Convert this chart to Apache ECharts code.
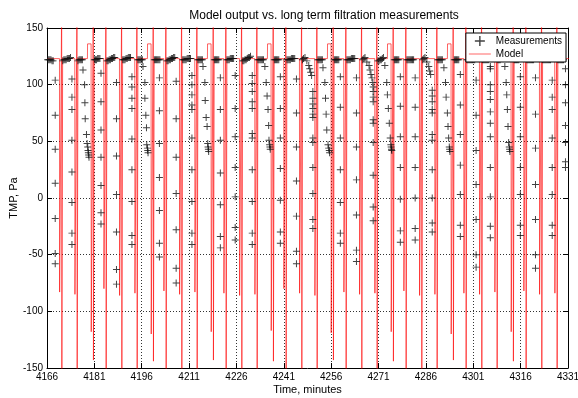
<!DOCTYPE html>
<html>
<head>
<meta charset="utf-8">
<script src="https://cdn.jsdelivr.net/npm/echarts@6/dist/echarts.min.js"></script>
<style>
  html, body { margin: 0; padding: 0; background: #fff; }
  #chart { width: 578px; height: 398px; }
</style>
</head>
<body>
<div id="chart"></div>
<script>
// model cycles: time of the big backwash spike, depth of the drop before it, low end of the spike
var cycleTimes = [4170.65, 4175.50, 4180.66, 4184.68, 4189.65, 4194.50, 4199.66, 4203.68,
  4208.65, 4213.50, 4218.66, 4222.68, 4227.65, 4232.50, 4237.66, 4241.68,
  4246.65, 4251.50, 4256.66, 4260.68, 4265.65, 4270.50, 4275.66, 4279.68,
  4284.65, 4289.50, 4294.66, 4298.68, 4303.65, 4308.50, 4313.66, 4317.68,
  4322.65, 4327.50, 4332.56];
var cycleDips = [-83, -85, -118, -80, -86, -84, -120, -82,
  -85, -83, -118, -84, -86, -85, -117, -80,
  -84, -86, -119, -83, -85, -84, -118, -82,
  -86, -85, -120, -84, -85, -83, -118, -82,
  -85, -84, -85];
var cycleLows = [-175, -175, -143, -175, -175, -175, -144, -175,
  -175, -175, -143, -175, -175, -175, -144, -175,
  -175, -175, -143, -175, -175, -175, -144, -175,
  -175, -175, -143, -175, -175, -175, -144, -175,
  -175, -175, -175];
// short raised steps of the model before every fourth spike
var bumps = [[4178.8, 4179.96], [4197.8, 4198.96], [4216.8, 4217.96], [4235.8, 4236.96],
  [4254.8, 4255.96], [4273.8, 4274.96], [4292.8, 4293.96], [4311.8, 4312.96]];
var flatModel = 123;
var bumpModel = 136;

// measurements: dense points during filtration
var measFlat = [
  [4166.2,122],[4166.55,122],[4166.9,122],[4167.25,122],[4167.6,121],[4167.95,121],
  [4171.0,121],[4171.35,122],[4171.7,122],[4172.05,122],[4172.4,123],[4172.75,123],[4173.1,123],[4173.45,124],
  [4175.8,121],[4176.15,122],[4176.5,122],[4176.85,122],[4177.2,122],
  [4181.0,122],[4181.35,122],[4181.7,122],[4182.05,123],[4182.4,123],[4182.75,123],
  [4185.0,121],[4185.35,121],[4185.7,122],[4186.05,122],[4186.4,123],[4186.75,123],[4187.1,124],[4187.45,124],
  [4190.0,122],[4190.35,122],[4190.7,122],[4191.05,123],[4191.4,123],[4191.75,124],[4192.1,124],[4192.45,124],
  [4194.8,122],[4195.15,122],[4195.5,122],[4195.85,122],[4196.2,122],
  [4200.0,122],[4200.35,122],[4200.7,122],[4201.05,122],[4201.4,122],[4201.75,122],
  [4204.0,121],[4204.35,121],[4204.7,122],[4205.05,122],[4205.4,123],[4205.75,123],[4206.1,124],[4206.45,124],
  [4209.0,122],[4209.35,122],[4209.7,122],[4210.05,122],[4210.4,123],[4210.75,123],[4211.1,123],[4211.45,123],
  [4213.8,122],[4214.15,122],[4214.5,122],[4214.85,122],[4215.2,122],
  [4219.0,122],[4219.35,122],[4219.7,122],[4220.05,122],[4220.4,122],
  [4223.0,122],[4223.35,122],[4223.7,122],[4224.05,123],[4224.4,123],[4224.75,123],[4225.1,123],
  [4228.0,121],[4228.35,121],[4228.7,122],[4229.05,122],[4229.4,123],[4229.75,124],[4230.1,124],[4230.45,125],
  [4232.8,122],[4233.15,122],[4233.5,122],[4233.85,122],[4234.2,122],[4234.55,122],
  [4238.0,122],[4238.35,122],[4238.7,122],[4239.05,122],[4239.4,122],
  [4242.0,122],[4242.35,122],[4242.7,122],[4243.05,122],[4243.4,123],[4243.75,123],[4244.1,123],[4244.45,123],
  [4246.9,122],[4247.25,123],
  [4251.8,122],[4252.15,122],[4252.5,122],[4252.85,122],[4253.2,122],
  [4257.0,122],[4257.35,122],[4257.7,122],[4258.05,122],[4258.4,122],
  [4261.0,122],[4261.35,122],[4261.7,122],[4262.05,122],[4262.4,123],[4262.75,123],[4263.1,123],[4263.45,123],
  [4266.0,122],[4266.35,123],
  [4270.8,121],[4271.15,121],[4271.5,122],[4271.85,122],[4272.2,123],[4272.55,124],
  [4276.0,122],[4276.35,122],[4276.7,122],[4277.05,122],[4277.4,122],
  [4280.0,122],[4280.35,122],[4280.7,122],[4281.05,122],[4281.4,122],[4281.75,122],[4282.1,122],
  [4285.0,122],[4285.35,123],
  [4289.8,122],[4290.15,122],[4290.5,122],[4290.85,122],[4291.2,122],
  [4295.0,122],[4295.35,122],[4295.7,122],[4296.05,122],[4296.4,122],
  [4299.0,122],[4299.35,122],[4299.7,122],[4300.05,122],[4300.4,122],[4300.75,122],[4301.1,122],[4301.45,122],
  [4304.0,122],[4304.35,122],[4304.7,122],[4305.05,122],[4305.4,122],[4305.75,122],
  [4308.8,122],[4309.15,122],[4309.5,122],[4309.85,123],[4310.2,123],[4310.55,123],
  [4314.0,122],[4314.35,122],[4314.7,122],[4315.05,122],[4315.4,122],
  [4318.0,122],[4318.35,122],[4318.7,122],[4319.05,122],[4319.4,122],[4319.75,122],[4320.1,122],
  [4323.0,122],[4323.35,122],[4323.7,122],[4324.05,122],[4324.4,122],[4324.75,122],[4325.1,122],[4325.45,122],
  [4327.8,122],[4328.15,122],[4328.5,122],[4328.85,122],[4329.2,122],[4329.55,122]
];
// measurements: fast samples during each pressure transient (time, values)
var measColumns = [
  [4168.6, [104, 73, 43, 13, -18, -49, -58]],
  [4173.9, [105, 89, 78, 51, 23, -4, -31, -41]],
  [4183.1, [110, 85, 60, 36, 11, -13, -23]],
  [4188.0, [102, 70, 37, 3, -30, -63, -76]],
  [4192.9, [107, 98, 88, 79, 52, 25, -3, -33, -41]],
  [4201.6, [106, 77, 48, 18, -11, -40, -52]],
  [4206.9, [103, 70, 36, 4, -28, -62, -75]],
  [4211.9, [108, 100, 91, 82, 78, 53, 25, -3, -31, -41]],
  [4220.9, [106, 78, 51, 22, -6, -34, -44]],
  [4225.6, [108, 79, 54, 27, 1, -26, -37]],
  [4231.0, [108, 101, 94, 85, 79, 57, 53, 25, -3, -31, -41]],
  [4239.9, [107, 79, 53, 26, -2, -30, -40]],
  [4245.0, [105, 75, 45, 15, -16, -47, -58]],
  [4250.2, [94, 88, 83, 79, 74, 71, 53, 49, 27, 4, -19, -27]],
  [4258.9, [107, 80, 53, 25, -4, -31, -40]],
  [4264.0, [106, 75, 45, 16, -15, -46, -56]],
  [4269.3, [98, 94, 89, 85, 69, 66, 49, 20, -8, -20]],
  [4277.9, [107, 81, 54, 27, -1, -29, -39]],
  [4282.6, [106, 80, 54, 27, 0, -27, -37]],
  [4288.0, [95, 90, 85, 78, 75, 56, 51, 25, 0, -22, -30]],
  [4296.9, [109, 82, 56, 29, 3, -24, -34]],
  [4301.9, [104, 73, 42, 12, -19, -50, -61]],
  [4306.4, [116, 114, 100, 94, 87, 76, 66, 54, 27, 1, -25, -35]],
  [4315.9, [107, 80, 54, 27, 3, -24, -33]],
  [4320.7, [106, 74, 44, 12, -19, -50, -62]],
  [4326.0, [104, 89, 78, 53, 27, 3, -24, -33]],
  [4330.2, [114, 100, 84, 64, 49, 32, 27]]
];
// measurements: relaxation drops and slow decays
var measTrails = [
  [4177.4,113],[4177.9,100],[4178.0,84],[4178.1,70],[4178.5,56],[4178.7,48],[4178.9,45],[4179.0,42],[4179.1,40],[4179.2,38],[4179.3,36],
  [4196.4,116],[4197.0,102],[4197.0,88],[4197.3,73],[4197.5,62],[4197.6,47],[4197.8,44],[4197.9,42],[4198.0,40],
  [4215.4,116],[4216.0,102],[4216.1,86],[4216.4,71],[4216.7,63],[4216.9,48],[4217.0,45],[4217.1,43],[4217.2,41],
  [4235.0,116],[4235.4,102],[4235.7,90],[4236.0,78],[4236.2,64],[4236.3,51],[4236.5,47],[4236.6,45],[4236.7,43],
  [4247.7,124],[4248.3,121],[4248.9,117],[4249.2,114],[4249.5,111],[4249.8,108],
  [4253.4,115],[4254.0,102],[4254.2,88],[4254.4,74],[4254.6,60],[4255.0,47],[4255.2,44],[4255.4,42],[4255.5,40],
  [4266.7,124],[4267.3,120],[4268.0,117],[4268.3,113],[4268.6,109],[4268.9,106],[4269.2,102],
  [4273.0,117],[4273.6,102],[4273.8,91],[4274.1,79],[4274.4,66],[4274.7,53],[4274.9,47],[4275.0,45],[4275.1,43],[4275.2,42],
  [4285.7,124],[4286.3,120],[4286.9,116],[4287.2,112],[4287.5,109],
  [4291.7,115],[4292.2,102],[4292.4,89],[4292.8,75],[4293.0,63],[4293.2,53],[4293.4,45],[4293.5,43],[4293.6,41],
  [4311.0,116],[4311.4,102],[4311.6,91],[4311.8,78],[4312.0,63],[4312.2,49],[4312.4,45],[4312.5,43],[4312.6,41]
];

var xTicks = [4166, 4181, 4196, 4211, 4226, 4241, 4256, 4271, 4286, 4301, 4316, 4331];
var yTicks = [-150, -100, -50, 0, 50, 100, 150];

// build model polyline
var modelData = [[4166, flatModel]];
cycleTimes.forEach(function (tc, i) {
  var bump = null;
  bumps.forEach(function (b) {
    if (b[1] < tc && b[1] > tc - 1.5) bump = b;
  });
  if (bump) {
    modelData.push([bump[0], flatModel], [bump[0] + 0.05, bumpModel],
      [bump[1], bumpModel], [bump[1] + 0.05, cycleDips[i]]);
  } else {
    modelData.push([tc - 0.7, flatModel], [tc - 0.65, cycleDips[i]]);
  }
  modelData.push([tc, 175], [tc + 0.05, cycleLows[i]], [tc + 0.3, flatModel]);
});

// build measurement points
var measData = measFlat.slice();
measColumns.forEach(function (c) {
  c[1].forEach(function (v) { measData.push([c[0], v]); });
});
measData = measData.concat(measTrails);

var plus = "path://M4.3,0h1.4v10h-1.4zM0,4.3h10v1.4h-10z";
var font = "Liberation Sans, Arial, sans-serif";

var myChart = echarts.init(document.getElementById("chart"));
var option = {
  backgroundColor: "#fff",
  animation: false,
  title: {
    text: "Model output vs. long term filtration measurements",
    left: 319,
    top: 5,
    textAlign: "center",
    textStyle: { fontFamily: font, fontSize: 12, fontWeight: "normal", color: "#000" }
  },
  legend: {
    orient: "vertical",
    right: 12,
    top: 33,
    backgroundColor: "#fff",
    borderColor: "#000",
    borderWidth: 1,
    borderRadius: 0,
    padding: [3, 4, 3, 3],
    itemGap: 3,
    itemWidth: 22,
    itemHeight: 10,
    itemTextGap: 4,
    textStyle: { fontFamily: font, fontSize: 10, color: "#000" },
    data: [
      { name: "Measurements", icon: plus, itemStyle: { color: "#111" } },
      { name: "Model", icon: "path://M0,0h22v1.3h-22z", itemStyle: { color: "#ff8a8a" } }
    ]
  },
  grid: { left: 47, right: 10, top: 28, bottom: 30, containLabel: false, outerBoundsMode: "none" },
  xAxis: [
    {
      type: "value",
      min: xTicks[0],
      max: xTicks[xTicks.length - 1],
      interval: 15,
      name: "Time, minutes",
      nameLocation: "middle",
      nameGap: 16,
      nameMoveOverlap: false,
      nameTextStyle: { fontFamily: font, fontSize: 11, color: "#000" },
      axisLine: { show: true, onZero: false, lineStyle: { color: "#000", width: 1 } },
      axisTick: { inside: true, length: 5, lineStyle: { color: "#000" } },
      axisLabel: {
        fontFamily: font, fontSize: 10, color: "#000", margin: 4,
        showMinLabel: true, showMaxLabel: true,
        formatter: function (v) { return String(v); }
      },
      splitLine: { show: true, lineStyle: { color: "#333", type: [1, 2], width: 1 } }
    },
    {
      type: "value",
      position: "top",
      min: xTicks[0],
      max: xTicks[xTicks.length - 1],
      interval: 15,
      axisLine: { show: true, onZero: false, lineStyle: { color: "#000", width: 1 } },
      axisTick: { inside: true, length: 5, lineStyle: { color: "#000" } },
      axisLabel: { show: false },
      splitLine: { show: false }
    }
  ],
  yAxis: [
    {
      type: "value",
      min: yTicks[0],
      max: yTicks[yTicks.length - 1],
      interval: 50,
      name: "TMP, Pa",
      nameLocation: "middle",
      nameGap: 28,
      nameMoveOverlap: false,
      nameTextStyle: { fontFamily: font, fontSize: 11, color: "#000" },
      axisLine: { show: true, onZero: false, lineStyle: { color: "#000", width: 1 } },
      axisTick: { show: true, inside: true, length: 5, lineStyle: { color: "#000" } },
      axisLabel: { fontFamily: font, fontSize: 10, color: "#000", margin: 4 },
      splitLine: { show: true, lineStyle: { color: "#333", type: [1, 2], width: 1 } }
    },
    {
      type: "value",
      position: "right",
      min: yTicks[0],
      max: yTicks[yTicks.length - 1],
      interval: 50,
      axisLine: { show: true, onZero: false, lineStyle: { color: "#000", width: 1 } },
      axisTick: { show: true, inside: true, length: 5, lineStyle: { color: "#000" } },
      axisLabel: { show: false },
      splitLine: { show: false }
    }
  ],
  series: [
    {
      name: "Model",
      type: "line",
      showSymbol: false,
      symbol: "none",
      clip: true,
      lineStyle: { color: "rgba(255,0,0,0.62)", width: 1 },
      itemStyle: { color: "#ff8a8a" },
      data: modelData,
      z: 2
    },
    {
      name: "Measurements",
      type: "scatter",
      symbol: plus,
      symbolSize: 7,
      itemStyle: { color: "#111" },
      data: measData,
      z: 3
    }
  ]
};
myChart.setOption(option);
</script>
</body>
</html>
